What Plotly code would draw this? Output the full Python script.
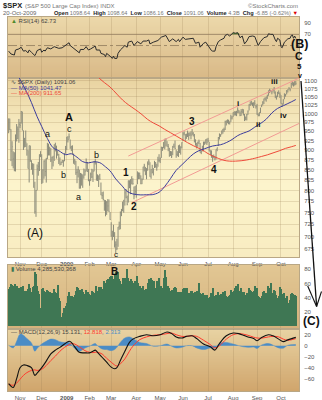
import math
import numpy as np
import pandas as pd
import plotly.graph_objects as go

W, H = 322, 400

# ---------------- trading calendar ----------------
holidays = ["2008-11-27", "2008-12-25", "2009-01-01", "2009-01-19", "2009-02-16",
            "2009-04-10", "2009-05-25", "2009-07-03", "2009-09-07"]
sessions = pd.bdate_range("2008-10-20", "2009-10-20")
sessions = sessions[~sessions.isin(pd.to_datetime(holidays))]
day_keys = [d.strftime("%Y-%m-%d") for d in sessions]
pos = {k: i for i, k in enumerate(day_keys)}
n = len(day_keys)

# ---------------- daily prices ($SPX) ----------------
closes = [
    985.40, 955.05, 896.78, 908.11, 876.77, 848.92, 940.51, 930.09, 954.09, 968.75,
    966.30, 1005.75, 952.77, 904.88, 930.99, 919.21, 898.95, 852.30, 911.29, 873.29,
    850.75, 859.12, 806.58, 752.44, 800.03, 851.81, 857.39, 887.68, 896.24,
    816.21, 848.81, 870.74, 845.22, 876.07, 909.70, 888.67, 899.24, 873.59, 879.73,
    868.57, 913.18, 904.42, 885.28, 887.88, 871.63, 863.16, 868.15, 872.80, 869.42, 890.64, 903.25,
    931.80, 927.45, 934.70, 906.65, 909.73, 890.35, 870.26, 871.79, 842.62, 843.74,
    850.12, 805.22, 840.24, 827.50, 831.95, 836.57, 845.71, 874.09, 845.14, 825.88,
    825.44, 838.51, 832.23, 845.85, 868.60, 869.89, 827.16, 833.74, 835.19, 826.84,
    789.17, 788.42, 778.94, 770.05, 743.33, 773.14, 764.90, 752.83, 735.09,
    700.82, 696.33, 712.87, 682.55, 683.38, 676.53, 719.60, 721.36, 750.74, 756.55, 753.89,
    778.12, 794.35, 784.04, 768.54, 822.92, 806.12, 813.88, 832.86, 815.94, 787.53, 797.87,
    811.08, 834.38, 842.50, 835.48, 815.55, 825.16, 856.56, 858.73, 841.50, 852.06, 865.30,
    869.60, 832.39, 850.08, 843.55, 851.92, 866.23, 857.51, 855.16, 873.64, 872.81,
    877.52, 907.24, 903.80, 919.53, 907.39, 929.23, 909.24, 908.35, 883.92, 893.07,
    882.88, 909.71, 908.13, 903.47, 888.33, 887.00, 910.33, 893.06, 906.83, 919.14,
    942.87, 944.74, 931.76, 942.46, 940.09, 939.14, 942.43, 939.15, 944.89, 946.21, 923.72,
    911.97, 910.71, 918.37, 921.23, 893.04, 895.10, 900.94, 920.26, 918.90, 927.23, 919.32,
    923.33, 896.42, 898.72, 881.03, 879.56, 882.68, 879.13, 901.05, 905.84, 932.68, 940.74,
    940.38, 951.13, 954.58, 954.07, 976.29, 979.26, 982.18, 979.62, 975.15, 986.75, 987.48,
    1002.63, 1005.65, 1002.72, 997.08, 1010.48, 1007.10, 994.35, 1005.81, 1012.73, 1004.09, 979.73,
    989.67, 996.46, 1007.37, 1026.13, 1025.57, 1028.00, 1028.12, 1030.98, 1028.93, 1020.62,
    998.04, 994.75, 1003.24, 1016.40, 1025.39, 1033.37, 1044.14, 1042.73, 1049.34, 1052.63, 1068.76,
    1065.49, 1068.30, 1064.66, 1071.66, 1060.87, 1050.78, 1044.38, 1062.98, 1060.61, 1057.08,
    1029.85, 1025.21, 1040.46, 1054.72, 1057.58, 1065.48, 1071.49, 1076.19, 1073.19, 1092.02,
    1096.56, 1087.68, 1097.91, 1091.06,
]
highs = [
    985.44, 985.44, 955.50, 922.83, 896.14, 893.78, 940.51, 969.97, 963.23, 984.38,
    975.60, 1007.51, 1005.75, 952.40, 931.43, 951.95, 917.40, 898.95, 911.29, 911.29,
    873.29, 865.90, 864.57, 820.52, 801.22, 862.68, 868.94, 888.21, 896.25,
    888.61, 850.54, 873.12, 875.60, 879.42, 918.57, 916.26, 908.27, 904.63, 882.29,
    884.63, 914.66, 918.85, 911.02, 897.79, 889.59, 880.44, 869.79, 873.74, 873.70, 891.12, 910.32,
    934.73, 936.63, 943.85, 927.45, 910.00, 911.93, 890.40, 877.02, 871.79, 851.59,
    858.13, 849.64, 841.72, 840.24, 838.23, 852.53, 850.45, 877.86, 868.89, 851.66,
    825.79, 842.60, 851.85, 850.55, 870.75, 877.02, 868.05, 838.22, 835.23, 839.43,
    818.61, 796.17, 797.58, 778.69, 777.85, 775.49, 780.12, 779.42, 751.27,
    729.57, 711.67, 724.12, 708.85, 690.18, 695.27, 719.60, 730.71, 752.63, 758.29, 774.53,
    778.12, 803.04, 803.24, 788.13, 823.37, 823.92, 826.78, 832.98, 828.68, 809.07, 810.48,
    813.62, 845.61, 842.50, 842.50, 835.48, 828.42, 856.91, 864.31, 856.53, 853.05, 870.35,
    875.63, 868.27, 850.09, 861.78, 852.87, 871.80, 868.83, 864.48, 882.06, 888.70,
    880.48, 907.85, 907.70, 920.28, 929.58, 930.17, 922.99, 915.57, 905.40, 896.97,
    896.30, 910.00, 916.39, 924.60, 900.68, 896.65, 911.76, 913.84, 909.45, 920.02,
    947.77, 949.38, 942.51, 942.47, 951.69, 946.33, 946.99, 949.77, 956.23, 946.30, 942.45,
    928.00, 918.44, 921.93, 927.09, 918.13, 898.69, 910.85, 921.42, 922.00, 927.99, 930.01,
    931.92, 921.24, 898.72, 898.60, 886.80, 887.86, 883.57, 901.05, 905.84, 933.95, 943.96,
    941.89, 951.62, 956.53, 959.83, 979.42, 979.79, 982.49, 982.35, 977.76, 996.68, 993.18,
    1003.61, 1005.65, 1006.64, 1008.00, 1018.00, 1010.12, 1005.77, 1012.87, 1013.14, 1012.60, 998.64,
    991.20, 999.04, 1008.92, 1027.59, 1035.82, 1037.75, 1032.47, 1033.33, 1039.47, 1025.21,
    1028.45, 1000.34, 1003.43, 1016.48, 1026.07, 1036.34, 1044.14, 1048.18, 1049.74, 1056.04, 1068.76,
    1074.77, 1071.52, 1067.13, 1073.81, 1080.15, 1066.29, 1053.47, 1065.13, 1069.62, 1063.40,
    1054.91, 1030.60, 1042.58, 1060.55, 1058.02, 1070.67, 1073.00, 1079.46, 1075.30, 1093.17,
    1096.56, 1094.67, 1098.09, 1098.64,
]
lows = [
    944.46, 952.47, 871.12, 858.44, 852.85, 845.83, 845.27, 922.26, 928.50, 918.74,
    958.82, 971.31, 952.40, 899.73, 906.23, 907.46, 884.90, 852.30, 818.69, 869.03,
    849.99, 837.29, 806.58, 747.78, 741.02, 800.03, 834.99, 846.34, 881.21,
    815.69, 817.59, 827.60, 833.60, 818.41, 876.07, 885.38, 885.45, 868.73, 851.35,
    857.72, 871.53, 895.94, 877.44, 884.81, 863.84, 860.10, 861.44, 866.52, 857.07, 870.58, 889.67,
    899.35, 919.53, 927.28, 902.37, 896.81, 888.31, 864.32, 862.02, 836.93, 817.04,
    830.66, 804.47, 804.30, 811.29, 806.07, 827.69, 835.40, 845.73, 844.15, 821.67,
    811.09, 821.98, 829.18, 819.91, 845.42, 862.51, 822.99, 822.30, 808.06, 825.21,
    789.17, 780.43, 777.03, 754.25, 742.37, 745.25, 752.89, 751.75, 734.52,
    699.70, 692.30, 698.96, 677.93, 666.79, 672.88, 679.28, 713.65, 714.76, 742.46, 753.37,
    749.93, 765.64, 781.82, 766.20, 772.31, 805.48, 791.37, 814.48, 813.43, 779.81, 790.88,
    783.32, 814.53, 826.70, 826.83, 814.67, 814.84, 825.16, 845.35, 836.25, 826.44, 847.04,
    860.87, 832.39, 827.49, 840.57, 835.58, 853.91, 854.65, 847.12, 856.85, 868.51,
    866.10, 879.21, 897.34, 903.95, 901.36, 909.03, 908.68, 896.46, 882.52, 884.22,
    878.94, 886.07, 905.22, 901.37, 879.61, 883.75, 881.46, 891.87, 887.60, 903.56,
    923.26, 938.46, 923.85, 929.26, 934.13, 926.44, 936.72, 927.97, 939.04, 935.66, 919.65,
    911.60, 903.78, 907.94, 915.80, 893.04, 888.86, 896.08, 896.27, 913.03, 916.18, 912.86,
    920.82, 896.42, 886.36, 879.93, 869.32, 878.45, 872.81, 875.32, 896.50, 910.15, 927.45,
    934.65, 940.99, 943.22, 947.75, 953.27, 965.95, 972.29, 969.35, 968.65, 976.09, 982.85,
    990.22, 994.31, 994.31, 992.49, 1001.01, 1000.99, 992.40, 993.36, 1000.82, 994.60, 978.51,
    980.62, 980.25, 996.39, 1009.06, 1022.48, 1026.21, 1021.57, 1016.20, 1023.13, 1014.62,
    996.28, 991.97, 992.25, 1001.65, 1018.67, 1023.97, 1028.04, 1038.40, 1035.00, 1043.42, 1052.87,
    1061.20, 1064.27, 1057.46, 1066.36, 1060.39, 1045.85, 1041.17, 1048.67, 1057.83, 1046.47,
    1029.45, 1019.95, 1025.92, 1042.46, 1050.10, 1057.23, 1063.04, 1071.63, 1066.71, 1076.71,
    1084.76, 1081.53, 1084.50, 1086.16,
]
# daily volume, millions of shares
volume_m = [
    5200, 5500, 5900, 5800, 5600, 5000, 5900, 5700, 5300, 5400,
    4600, 5500, 5200, 5600, 4900, 4500, 5000, 5200, 5900, 5300,
    4800, 5500, 5700, 7600, 7300, 5600, 5000, 4500, 2500,
    5200, 5300, 5000, 4800, 4700, 5100, 4900, 4800, 4700, 4600,
    4400, 5200, 4800, 4700, 5800, 3900, 3600, 1300, 900, 1800, 2600, 2800,
    3300, 4200, 4800, 4300, 4100, 4300, 4100, 4400, 5000, 5500,
    5300, 5000, 5100, 5200, 4800, 4500, 4400, 5100, 4700, 4800,
    4500, 4400, 4900, 4800, 4700, 4300, 5700, 4900, 5500, 4200,
    5500, 5200, 5000, 6300, 6100, 6500, 6600, 6100, 6900,
    7000, 7000, 6600, 7300, 7600, 6500, 7600, 6600, 6400, 5900, 6700,
    6100, 6700, 6400, 8000, 6700, 6300, 6600, 6300, 5500, 6000, 6300,
    6300, 7100, 6000, 5700, 5300, 4900, 5600, 4700, 5100, 5200, 6000,
    6600, 6300, 6800, 6500, 6200, 6300, 5300, 6300, 6200, 6800,
    5400, 5700, 5400, 6800, 7900, 6900, 5300, 5600, 5300, 5000,
    5100, 4600, 5300, 5500, 5300, 4400, 4800, 4800, 4800, 4700,
    5200, 5400, 5300, 5200, 5300, 4600, 4700, 5000, 5000, 4300, 4600,
    4800, 5000, 4300, 6000, 4700, 4500, 4300, 4700, 4400, 4100, 4400,
    4000, 3700, 4100, 4700, 5300, 4200, 3900, 4400, 4100, 4800, 4400,
    4500, 4300, 4800, 4600, 5000, 4300, 4100, 4300, 4400, 5100, 4600,
    4800, 5000, 5400, 5700, 5900, 5000, 4800, 5400, 4800, 4600, 4800,
    4400, 4700, 4300, 5300, 5100, 5000, 4800, 4900, 5600, 5000,
    5300, 4300, 4100, 3900, 4200, 4800, 4900, 4700, 4200, 4700, 5600,
    5400, 6000, 4000, 4600, 5100, 5000, 4400, 3900, 4300, 5500,
    5200, 4500, 4100, 4700, 4000, 4200, 3300, 3300, 3700, 4500,
    4600, 4500, 4400, 4285.53,
]
for name, arr in [("closes", closes), ("highs", highs), ("lows", lows), ("volume_m", volume_m)]:
    if len(arr) != n:
        raise ValueError(f"{name}: {len(arr)} values for {n} sessions")

# ---------------- moving averages (weekly readings) ----------------
ma50_dates = ["2008-10-20", "2008-10-31", "2008-11-10", "2008-11-17", "2008-11-24", "2008-12-01",
              "2008-12-08", "2008-12-15", "2008-12-22", "2008-12-31", "2009-01-08", "2009-01-15",
              "2009-01-23", "2009-01-30", "2009-02-06", "2009-02-13", "2009-02-23", "2009-02-27",
              "2009-03-06", "2009-03-13", "2009-03-20", "2009-03-27", "2009-04-07", "2009-04-15",
              "2009-04-22", "2009-04-30", "2009-05-07", "2009-05-14", "2009-05-21", "2009-05-29",
              "2009-06-05", "2009-06-12", "2009-06-19", "2009-06-26", "2009-07-08", "2009-07-17",
              "2009-07-24", "2009-07-31", "2009-08-07", "2009-08-14", "2009-08-21", "2009-08-28",
              "2009-09-04", "2009-09-14", "2009-09-21", "2009-09-28", "2009-10-05", "2009-10-09",
              "2009-10-14", "2009-10-20"]
ma50_vals = [1175.2, 1110.4, 1070.6, 1032.4, 990.8, 963.3, 930.2, 905.5, 897.8, 887.5,
             889.8, 880.9, 869.8, 866.6, 869.4, 867.1, 856.7, 846.8, 827.1, 812.3,
             797.8, 791.9, 789.7, 790.1, 790.2, 795.7, 809.4, 827.9, 848.1, 861.8,
             875.9, 889.2, 897.9, 903.0, 910.1, 913.5, 919.1, 927.3, 938.0, 944.9,
             950.7, 961.4, 971.4, 983.6, 1001.6, 1015.0, 1022.9, 1029.4, 1034.3, 1041.47]
ma200_dates = ["2009-02-02", "2009-02-11", "2009-02-20", "2009-02-27", "2009-03-09", "2009-03-16",
               "2009-03-23", "2009-03-31", "2009-04-08", "2009-04-16", "2009-04-23", "2009-04-30",
               "2009-05-07", "2009-05-14", "2009-05-21", "2009-05-29", "2009-06-05", "2009-06-12",
               "2009-06-19", "2009-06-26", "2009-06-30", "2009-07-08", "2009-07-15", "2009-07-22",
               "2009-07-29", "2009-08-05", "2009-08-12", "2009-08-19", "2009-08-26", "2009-08-31",
               "2009-09-08", "2009-09-15", "2009-09-22", "2009-09-30", "2009-10-07", "2009-10-14",
               "2009-10-20"]
ma200_vals = [1140, 1113, 1094, 1080, 1058, 1040, 1026, 1012, 997, 983, 973, 965,
              955, 946, 937, 928, 919, 911, 904, 896, 892, 884, 878, 873,
              871, 871, 872, 874, 877, 879, 883, 887, 892, 898, 904, 908, 911.65]

# ---------------- trend channel (wave 2-4 line and its parallel) ----------------
channel_upper = [("2009-03-23", 884.0), ("2009-10-20", 1103.5)]
channel_lower = [("2009-03-26", 772.0), ("2009-10-20", 967.3)]

# ---------------- RSI(14) readings ----------------
rsi_dates = ["2008-10-20", "2008-10-22", "2008-10-27", "2008-10-28", "2008-10-31", "2008-11-04",
             "2008-11-06", "2008-11-10", "2008-11-12", "2008-11-13", "2008-11-17", "2008-11-20",
             "2008-11-21", "2008-11-24", "2008-11-28", "2008-12-01", "2008-12-03", "2008-12-04",
             "2008-12-08", "2008-12-11", "2008-12-16", "2008-12-22", "2008-12-26", "2008-12-31",
             "2009-01-06", "2009-01-07", "2009-01-12", "2009-01-14", "2009-01-20", "2009-01-21",
             "2009-01-26", "2009-01-28", "2009-01-30", "2009-02-03", "2009-02-06", "2009-02-09",
             "2009-02-10", "2009-02-13", "2009-02-17", "2009-02-20", "2009-02-23", "2009-02-24",
             "2009-02-27", "2009-03-03", "2009-03-04", "2009-03-05", "2009-03-09", "2009-03-10",
             "2009-03-12", "2009-03-18", "2009-03-20", "2009-03-23", "2009-03-26", "2009-03-30",
             "2009-04-02", "2009-04-07", "2009-04-09", "2009-04-15", "2009-04-17", "2009-04-20",
             "2009-04-23", "2009-04-29", "2009-05-04", "2009-05-06", "2009-05-08", "2009-05-13",
             "2009-05-18", "2009-05-21", "2009-05-26", "2009-05-27", "2009-06-01", "2009-06-03",
             "2009-06-08", "2009-06-12", "2009-06-16", "2009-06-19", "2009-06-22", "2009-06-25",
             "2009-06-29", "2009-07-02", "2009-07-07", "2009-07-08", "2009-07-10", "2009-07-13",
             "2009-07-15", "2009-07-17", "2009-07-22", "2009-07-23", "2009-07-27", "2009-07-29",
             "2009-07-31", "2009-08-03", "2009-08-05", "2009-08-07", "2009-08-11", "2009-08-13",
             "2009-08-17", "2009-08-19", "2009-08-21", "2009-08-26", "2009-08-28", "2009-08-31",
             "2009-09-02", "2009-09-04", "2009-09-10", "2009-09-15", "2009-09-16", "2009-09-18",
             "2009-09-22", "2009-09-24", "2009-09-25", "2009-09-28", "2009-09-30", "2009-10-01",
             "2009-10-02", "2009-10-06", "2009-10-09", "2009-10-13", "2009-10-14", "2009-10-15",
             "2009-10-16", "2009-10-19", "2009-10-20"]
rsi_vals = [40, 35, 33, 42, 44, 47, 40, 41, 37, 42, 38, 32, 36, 41, 44, 38, 42, 40, 46, 44,
            48, 45, 46, 50, 55, 50, 45, 41, 37, 43, 43, 48, 42, 44, 48, 49, 42, 42, 36, 34,
            30, 36, 31, 27, 31, 27, 27, 36, 42, 50, 47, 56, 58, 50, 57, 53, 58, 58, 60, 53,
            56, 59, 65, 66, 68, 57, 62, 57, 61, 57, 65, 61, 62, 63, 54, 56, 47, 54, 56, 46,
            41, 40, 40, 48, 57, 60, 63, 68, 70, 67, 70, 73, 72, 73, 64, 67, 53, 58, 66, 67,
            66, 61, 50, 57, 64, 66, 71, 70, 70, 60, 57, 63, 60, 48, 46, 56, 62, 63, 68, 69,
            63, 67, 62.73]

# ---------------- MACD(12,26,9) readings ----------------
macd_dates = ["2008-10-20", "2008-10-24", "2008-10-29", "2008-11-03", "2008-11-06", "2008-11-11",
              "2008-11-17", "2008-11-20", "2008-11-24", "2008-12-01", "2008-12-05", "2008-12-11",
              "2008-12-17", "2008-12-23", "2008-12-30", "2009-01-06", "2009-01-08", "2009-01-13",
              "2009-01-20", "2009-01-27", "2009-02-02", "2009-02-05", "2009-02-09", "2009-02-11",
              "2009-02-18", "2009-02-24", "2009-03-02", "2009-03-05", "2009-03-09", "2009-03-12",
              "2009-03-18", "2009-03-24", "2009-03-27", "2009-04-06", "2009-04-15", "2009-04-23",
              "2009-05-01", "2009-05-11", "2009-05-15", "2009-05-21", "2009-05-29", "2009-06-04",
              "2009-06-11", "2009-06-17", "2009-06-25", "2009-07-06", "2009-07-10", "2009-07-16",
              "2009-07-24", "2009-08-03", "2009-08-10", "2009-08-14", "2009-08-20", "2009-08-27",
              "2009-09-01", "2009-09-08", "2009-09-16", "2009-09-22", "2009-09-29", "2009-10-05",
              "2009-10-09", "2009-10-20"]
macd_vals = [-69, -76, -60, -40, -35, -36, -40, -54, -50, -40, -28, -15, -8, -3, 3, 8, 6, -2,
             -12, -13, -13, -10, -8, -12, -21, -30, -39, -42, -40, -27, -10, 6, 12, 17, 20, 18,
             20, 25, 22, 16, 14, 17, 18, 13, 3, -2, -8, 4, 18, 23, 22, 19, 16, 13, 9, 15,
             20, 18, 12, 7.5, 10.6, 15.131]
signal_vals = [-70, -72, -68, -61, -54, -49, -45, -44, -45, -43, -36, -27, -19, -10, -3, 2, 4, 3,
               -2, -9, -12, -12.5, -12, -12, -15, -23, -30, -35, -37, -33, -24, -10, -1, 11, 16, 19,
               20, 22, 23, 20, 17, 17, 18, 17, 10, 2, -4, 0, 12, 20, 22, 21, 19, 15.5, 14, 13.8,
               16, 17, 16, 12, 9.8, 12.818]

# ---------------- wave labels ----------------
wave_labels = [  # text, session, price, font size, bold
    ("A", "2009-01-06", 991, 11, True), ("c", "2009-01-06", 956, 9, False),
    ("a", "2008-12-08", 942, 9, False), ("b", "2008-12-29", 837, 9, False),
    ("b", "2009-02-10", 886, 9, False), ("a", "2009-01-16", 786, 9, False),
    ("(A)", "2008-11-20", 707, 12, False),
    ("1", "2009-03-19", 842, 10, True), ("2", "2009-03-30", 763, 10, True),
    ("3", "2009-06-11", 976, 10, True), ("4", "2009-07-09", 849, 10, True),
    ("i", "2009-08-07", 1030, 8, True), ("ii", "2009-09-02", 969, 8, True),
    ("iii", "2009-09-23", 1098, 8, True), ("iv", "2009-10-05", 994, 8, True),
]

month_names = ["Nov", "Dec", "<b>2009</b>", "Feb", "Mar", "Apr", "May", "Jun", "Jul", "Aug", "Sep", "Oct"]
month_starts = [i for i in range(1, n) if sessions[i].month != sessions[i - 1].month]

# ---------------- layout geometry (pixels) ----------------
PX_L, PX_R = 8, 299
RSI_T, RSI_B = 17, 78
PR_T, PR_B = 78, 257
VOL_T, VOL_B = 265, 328.5
MC_T, MC_B = 329, 391
XSTEP, X0PX = 1.1395, 8.65
x_range = [(PX_L - X0PX) / XSTEP, (PX_R - X0PX) / XSTEP]


def px(x):
    return x / W


def py(y):
    return 1 - y / H


def dom(t, b):
    return [1 - b / H, 1 - t / H]


FONT = "Liberation Sans, Arial, sans-serif"
x = np.arange(n)

fig = go.Figure()

# RSI panel
rx = [pos[d] for d in rsi_dates]
fig.add_trace(go.Scatter(x=rx, y=[70] * len(rx), mode="lines", line=dict(width=0),
                         xaxis="x", yaxis="y", hoverinfo="skip"))
fig.add_trace(go.Scatter(x=rx, y=[max(v, 70) for v in rsi_vals], mode="lines", line=dict(width=0),
                         fill="tonexty", fillcolor="#5f8f3a", xaxis="x", yaxis="y", hoverinfo="skip"))
fig.add_trace(go.Scatter(x=rx, y=rsi_vals, mode="lines", line=dict(color="#2b2b2b", width=1),
                         xaxis="x", yaxis="y"))

# price bars (high-low with close tick)
bx, by = [], []
for i, (h, l, c) in enumerate(zip(highs, lows, closes)):
    bx += [i, i, None, i, i + 0.45, None]
    by += [l, h, None, c, c, None]
fig.add_trace(go.Scatter(x=bx, y=by, mode="lines", line=dict(color="#8b8b7a", width=1),
                         xaxis="x2", yaxis="y2", hoverinfo="skip"))


def channel(points, x_end):
    (d0, p0), (d1, p1) = points
    i0, i1 = pos[d0], pos[d1]
    k = (math.log(p1) - math.log(p0)) / (i1 - i0)
    return [i0, x_end], [p0, math.exp(math.log(p0) + k * (x_end - i0))]


for pts in (channel_upper, channel_lower):
    cx, cy = channel(pts, x_range[1])
    fig.add_trace(go.Scatter(x=cx, y=cy, mode="lines", line=dict(color="#f29a94", width=1),
                             xaxis="x2", yaxis="y2", hoverinfo="skip"))
fig.add_trace(go.Scatter(x=[pos[d] for d in ma200_dates], y=ma200_vals, mode="lines",
                         line=dict(color="#ee4a3a", width=1, shape="spline"), xaxis="x2", yaxis="y2"))
fig.add_trace(go.Scatter(x=[pos[d] for d in ma50_dates], y=ma50_vals, mode="lines",
                         line=dict(color="#3c3c9c", width=1, shape="spline"), xaxis="x2", yaxis="y2"))

# volume
fig.add_trace(go.Bar(x=x, y=volume_m, marker=dict(color="#3f7754", line=dict(width=0)),
                     width=1.0, xaxis="x3", yaxis="y3"))

# MACD
mx = [pos[d] for d in macd_dates]
hist = [m - s for m, s in zip(macd_vals, signal_vals)]
fig.add_trace(go.Scatter(x=mx, y=hist, mode="lines", line=dict(color="#4a8cc6", width=0.5, shape="spline"),
                         fill="tozeroy", fillcolor="#4a8cc6", xaxis="x4", yaxis="y4", hoverinfo="skip"))
fig.add_trace(go.Scatter(x=mx, y=signal_vals, mode="lines",
                         line=dict(color="#ff3b2f", width=1, shape="spline"), xaxis="x4", yaxis="y4"))
fig.add_trace(go.Scatter(x=mx, y=macd_vals, mode="lines",
                         line=dict(color="#111111", width=1.1, shape="spline"), xaxis="x4", yaxis="y4"))

# ---------------- backgrounds ----------------
shapes = []


def hex_rgb(h):
    h = h.lstrip("#")
    return tuple(int(h[i:i + 2], 16) for i in (0, 2, 4))


def blend(stops, t):
    for (t0, c0), (t1, c1) in zip(stops, stops[1:]):
        if t0 <= t <= t1:
            f = (t - t0) / (t1 - t0) if t1 > t0 else 0
            a, b = hex_rgb(c0), hex_rgb(c1)
            return "rgb(%d,%d,%d)" % tuple(round(a[k] + (b[k] - a[k]) * f) for k in range(3))
    return stops[-1][1]


def band(top, bot, stops, step=1.5):
    y = top
    while y < bot - 1e-6:
        y2 = min(y + step, bot)
        t = ((y + y2) / 2 - top) / (bot - top)
        shapes.append(dict(type="rect", xref="paper", yref="paper", x0=px(PX_L), x1=px(PX_R),
                           y0=py(min(y2 + 0.4, bot)), y1=py(y), fillcolor=blend(stops, t),
                           line=dict(width=0), layer="below"))
        y = y2


band(RSI_T, RSI_B, [(0, "#ecd8aa"), (1, "#d9b987")])
band(PR_T, PR_B, [(0, "#e8d2a0"), (0.25, "#f6e9bd"), (0.6, "#fcf4cc"), (1, "#f8ecc1")])
band(VOL_T, VOL_B, [(0, "#e2c794"), (1, "#d5b27c")])
band(MC_T, MC_B, [(0, "#e8d3a3"), (1, "#d0a56c")])

# RSI reference levels
for lvl, dash in ((70, "solid"), (50, "dashdot"), (30, "solid")):
    shapes.append(dict(type="line", xref="x domain", yref="y", x0=0, x1=1, y0=lvl, y1=lvl,
                       line=dict(color="#a08a68", width=1, dash=dash), layer="below"))

# projection arrow on the right margin
ARROW = "#111111"
for (x0, y0, x1, y1, w) in [(301, 81, 316.6, 306.5, 1.3), (307.7, 286, 316.6, 306.5, 1.1),
                            (321.5, 291.5, 316.6, 306.5, 1.1)]:
    shapes.append(dict(type="line", xref="paper", yref="paper", x0=px(x0), y0=py(y0),
                       x1=px(x1), y1=py(y1), line=dict(color=ARROW, width=w), layer="above"))

# ---------------- text ----------------
ann = []


def text(xp, yp, s, size=6, color="#444", anchor="left", bold=False):
    ann.append(dict(x=px(xp), y=py(yp), xref="paper", yref="paper", text=("<b>%s</b>" % s) if bold else s,
                    showarrow=False, xanchor=anchor, yanchor="middle",
                    font=dict(family=FONT, size=size, color=color)))


text(1, 5.5, "$SPX", 7.5, "#222", bold=True)
text(23, 5.5, "(S&P 500 Large Cap Index) INDX", 6, "#777")
text(300, 5.5, "©StockCharts.com", 6, "#777", anchor="right")
text(1, 12.5, "20-Oct-2009", 6, "#666")
text(52, 12.5, "<b>Open</b> <span style='color:#777'>1098.64</span>  <b>High</b> "
     "<span style='color:#777'>1098.64</span>  <b>Low</b> <span style='color:#777'>1086.16</span>  "
     "<b>Close</b> <span style='color:#777'>1091.06</span>  <b>Volume</b> <span style='color:#777'>4.3B</span>  "
     "<b>Chg</b> <span style='color:#777'>-6.85 (-0.62%)</span> <span style='color:#d00'>▼</span>",
     5.6, "#222")

text(9, 20.5, "<span style='color:#4f8a2e'>▲</span> RSI(14) 62.73", 6, "#444")
text(9, 82.3, "∿ $SPX (Daily) 1091.06", 6, "#444")
text(9, 87.5, "— MA(50) 1041.47", 6, "#3c3c9c")
text(9, 92.7, "— MA(200) 911.65", 6, "#ee4a3a")
text(9, 268.5, "<span style='color:#3f7754'>▮</span> Volume 4,285,530,368", 6, "#444")
text(9, 331.5, "— MACD(12,26,9) 15.131, <span style='color:#ff3b2f'>12.818</span>, "
     "<span style='color:#4a8cc6'>2.313</span>", 6, "#444")

for s, d, p, size, bold in wave_labels:
    ann.append(dict(x=pos[d], y=math.log10(p), xref="x2", yref="y2", showarrow=False,
                    text=("<b>%s</b>" % s) if bold else s, xanchor="center", yanchor="middle",
                    font=dict(family=FONT, size=size, color="#111")))
# wave c of (A) sits at the foot of the price panel, wave B marker in the volume panel
ann.append(dict(x=pos["2009-03-06"], y=py(254.8), xref="x2", yref="paper", showarrow=False, text="c",
                xanchor="center", yanchor="middle", font=dict(family=FONT, size=8, color="#111")))
ann.append(dict(x=pos["2009-03-05"], y=7650, xref="x3", yref="y3", showarrow=False, text="<b>B</b>",
                xanchor="center", yanchor="middle", font=dict(family=FONT, size=10, color="#111")))

text(299, 44.3, "(B)", 12.5, "#111", anchor="center", bold=True)
text(299, 56.2, "C", 10.5, "#111", anchor="center", bold=True)
text(299, 66.6, "5", 8, "#111", anchor="center", bold=True)
text(299.5, 75.3, "v", 7, "#111", anchor="center", bold=True)
text(311.5, 321, "(C)", 12, "#111", anchor="center", bold=True)

# ---------------- axes ----------------
GRID = "rgba(150,125,80,0.22)"
TICKF = dict(family=FONT, size=6, color="#555")
xcommon = dict(domain=[px(PX_L), px(PX_R)], range=x_range, tickvals=month_starts, ticktext=month_names,
               showgrid=True, gridcolor=GRID, gridwidth=1, zeroline=False, showline=True, mirror=True,
               linecolor="#b9a785", linewidth=1, ticks="", tickfont=TICKF, fixedrange=True)
ycommon = dict(side="right", showline=True, mirror=True, linecolor="#b9a785", linewidth=1, ticks="",
               tickfont=TICKF, zeroline=False, fixedrange=True, ticklabelstandoff=3)

fig.update_layout(
    width=W, height=H, autosize=False, margin=dict(l=0, r=0, t=0, b=0),
    paper_bgcolor="white", plot_bgcolor="rgba(0,0,0,0)", showlegend=False, bargap=0,
    shapes=shapes, annotations=ann,
    xaxis=dict(xcommon, anchor="y", showticklabels=False),
    xaxis2=dict(xcommon, anchor="y2", showticklabels=True, ticklabelstandoff=1),
    xaxis3=dict(xcommon, anchor="y3", showticklabels=False),
    xaxis4=dict(xcommon, anchor="y4", showticklabels=True, ticklabelstandoff=1),
    # only the upper RSI levels stay readable; the wave labels sit over the lower ones
    yaxis=dict(ycommon, domain=dom(RSI_T, RSI_B), range=[-8, 101], tickvals=[70, 90],
               showgrid=False, anchor="x"),
    yaxis2=dict(ycommon, domain=dom(PR_T, PR_B), type="log",
                range=[math.log10(659.5), math.log10(1108.65)],
                tickvals=list(range(675, 1101, 25)), ticktext=[str(v) for v in range(675, 1101, 25)],
                showgrid=True, gridcolor=GRID, anchor="x2"),
    yaxis3=dict(ycommon, domain=dom(VOL_T, VOL_B), range=[-310, 8580], tickvals=[2000, 4000, 6000, 8000],
                ticktext=["20", "40", "60", "80"], showgrid=False, anchor="x3"),
    yaxis4=dict(ycommon, domain=dom(MC_T, MC_B), range=[-82.4, 30.4], tickvals=[-60, -40, -20, 0, 20],
                showgrid=False, anchor="x4"),
)

fig.write_html("out.html", config={"displayModeBar": False})
